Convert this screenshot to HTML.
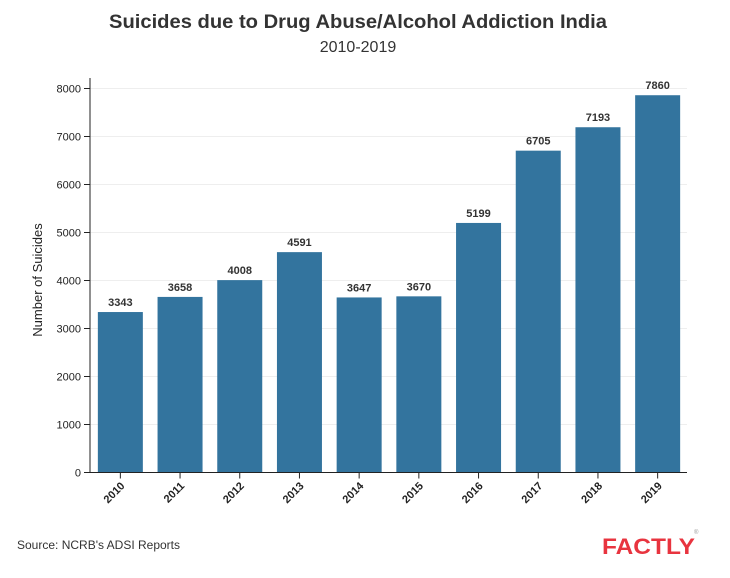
<!DOCTYPE html>
<html><head><meta charset="utf-8"><style>
body{margin:0;background:#fff;width:730px;height:573px;overflow:hidden;font-family:"Liberation Sans",sans-serif}
</style></head><body>
<svg width="730" height="573">
<text x="358" y="28" text-anchor="middle" font-size="19" font-weight="bold" fill="#333" textLength="498" lengthAdjust="spacingAndGlyphs">Suicides due to Drug Abuse/Alcohol Addiction India</text>
<text x="358" y="52" text-anchor="middle" font-size="16" fill="#333">2010-2019</text>
<g id="plot"></g>
<text transform="translate(42,280) rotate(-90)" text-anchor="middle" font-size="13" fill="#222">Number of Suicides</text>
<text x="17" y="549" font-size="12" fill="#333">Source: NCRB's ADSI Reports</text>
<text x="602" y="554" font-size="22" font-weight="bold" fill="#e8343f" textLength="93" lengthAdjust="spacingAndGlyphs">FACTLY</text>
<text x="694" y="534" font-size="6" fill="#999">®</text>
</svg>
<script>
const categories=["2010","2011","2012","2013","2014","2015","2016","2017","2018","2019"];
const values=[3343,3658,4008,4591,3647,3670,5199,6705,7193,7860];
const yTicks=[0,1000,2000,3000,4000,5000,6000,7000,8000];
const NS="http://www.w3.org/2000/svg";
const g=document.getElementById("plot");
const x0=90,x1=687,y0=472.5,yMax=8000,yTop=88.5;
const band=(x1-x0)/categories.length,bw=45;
const y=v=>y0-(v/yMax)*(y0-yTop);
const xc=i=>x0+band*(i+0.5)+0.5;
function mk(t,a){const e=document.createElementNS(NS,t);for(const k in a)e.setAttribute(k,a[k]);g.appendChild(e);return e;}
yTicks.forEach(t=>{
  if(t>0){const l=mk("line",{x1:x0,x2:x1,y1:y(t),y2:y(t),stroke:"#eee"});
  
  }
  const tk=mk("line",{x1:x0-6,x2:x0,y1:y(t),y2:y(t),stroke:"#222"});
  
  
  const tx=mk("text",{x:x0-9,y:y(t)+4,"text-anchor":"end","font-size":"11",fill:"#222"});
  tx.textContent=t;
  
  
});
values.forEach((v,i)=>{
  const r=mk("rect",{x:xc(i)-bw/2,y:y(v),width:bw,height:y0-y(v),fill:"#33749e"});
  
  
  const lb=mk("text",{x:xc(i),y:y(v)-6,"text-anchor":"middle","font-size":"11","font-weight":"bold",fill:"#333"});
  lb.textContent=v;
  
  
  const tk=mk("line",{x1:xc(i),x2:xc(i),y1:y0,y2:y0+6,stroke:"#222"});
  
  
  const tx=mk("text",{transform:`translate(${xc(i)+5},${y0+14}) rotate(-45)`,"text-anchor":"end","font-size":"11","font-weight":"bold",fill:"#222"});
  tx.textContent=categories[i];
  
  
});
const ya=mk("line",{x1:x0,x2:x0,y1:78,y2:y0,stroke:"#222"});


const xa=mk("line",{x1:x0,x2:x1,y1:y0,y2:y0,stroke:"#222"});


</script>
</body></html>
